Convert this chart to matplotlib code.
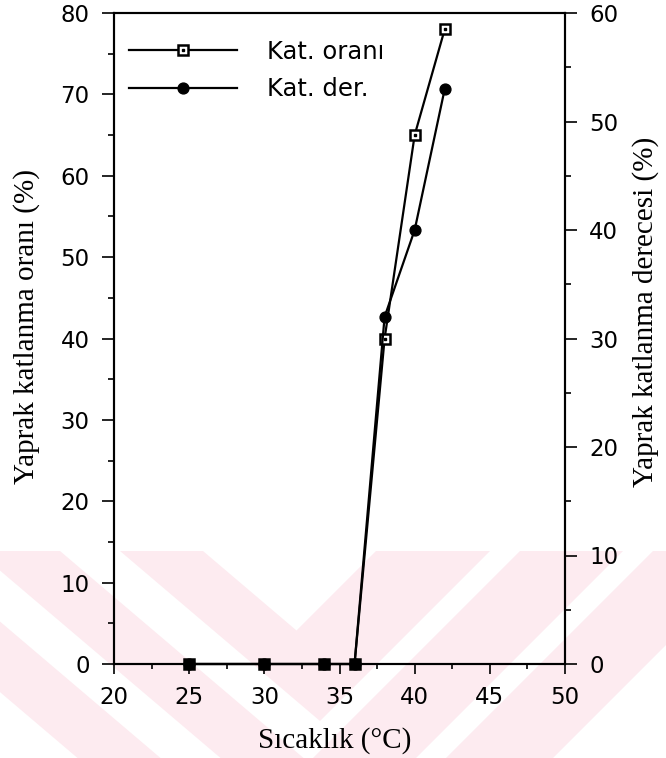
import matplotlib
matplotlib.use("Agg")
import matplotlib.pyplot as plt
from matplotlib.patches import Polygon, Rectangle
from matplotlib.lines import Line2D
from matplotlib.legend_handler import HandlerTuple
from matplotlib.ticker import MultipleLocator

# ---- data ----
temps = [25, 30, 34, 36, 38, 40, 42]
kat_orani = [0, 0, 0, 0, 40, 65, 78]      # left axis (%)
kat_der = [0, 0, 0, 0, 32, 40, 53]        # right axis (%)
series_labels = ["Kat. oranı", "Kat. der."]
xlabel = "Sıcaklık (°C)"
ylabel_left = "Yaprak katlanma oranı (%)"
ylabel_right = "Yaprak katlanma derecesi (%)"

W, H = 666, 758
fig = plt.figure(figsize=(W / 100, H / 100), dpi=100)
fig.patch.set_facecolor("white")


def P(x, y):
    return (x / W, 1 - y / H)


# ---- faint watermark in background ----
pink = "#fdebf0"
clip = Rectangle(P(0, 758), 1, (758 - 551) / H, transform=fig.transFigure,
                 facecolor="none", edgecolor="none")
fig.add_artist(clip)
s1, s2 = 0.85, 1.0
polys = [
    [(120, 551), (320, 721), (490, 551), (376, 551), (296.5, 630.5), (203, 551)],
]
for a, b in [(-23, 60), (-166, -83)]:
    d = 300
    polys.append([(a, 551), (b, 551), (b + d / s1, 551 + d), (a + d / s1, 551 + d)])
for a, b in [(520, 623), (653, 760)]:
    d = 300
    polys.append([(a, 551), (b, 551), (b - d / s2, 551 + d), (a - d / s2, 551 + d)])
for pts in polys:
    pg = Polygon([P(x, y) for x, y in pts], closed=True, transform=fig.transFigure,
                 facecolor=pink, edgecolor="none", zorder=-5)
    fig.add_artist(pg)
    pg.set_clip_path(clip)

# ---- axes ----
ax = fig.add_axes([114 / W, 1 - 664 / H, 451 / W, 651 / H])
ax.set_facecolor("none")
ax2 = ax.twinx()
ax2.set_facecolor("none")

ax.plot(temps, kat_orani, color="black", lw=1.6, marker="s", ms=7.8, mfc="white",
        mec="black", mew=1.8, clip_on=False, zorder=3)
ax.plot(temps, kat_orani, ls="none", marker="s", ms=1.6, color="black",
        clip_on=False, zorder=4)
ax2.plot(temps, kat_der, color="black", lw=1.6, marker="o", ms=7.8,
         clip_on=False, zorder=3)

ax.set_xlim(20, 50)
ax.set_ylim(0, 80)
ax2.set_ylim(0, 60)
ax.xaxis.set_major_locator(MultipleLocator(5))
ax.xaxis.set_minor_locator(MultipleLocator(2.5))
ax.yaxis.set_major_locator(MultipleLocator(10))
ax.yaxis.set_minor_locator(MultipleLocator(5))
ax2.yaxis.set_major_locator(MultipleLocator(10))
ax2.yaxis.set_minor_locator(MultipleLocator(5))

tickfont = "DejaVu Sans"
for a in (ax, ax2):
    for sp in a.spines.values():
        sp.set_linewidth(1.5)
ax.tick_params(axis="y", which="major", direction="out", length=8.5, width=1.2,
               labelsize=16.5, pad=9)
ax.tick_params(axis="y", which="minor", direction="out", length=4, width=1.2)
ax.tick_params(axis="x", which="major", direction="out", length=7.5, width=1.2,
               labelsize=16.5, pad=8)
ax.tick_params(axis="x", which="minor", direction="out", length=3.5, width=1.2)
ax2.tick_params(axis="y", which="major", direction="out", length=8.5, width=1.2,
                labelsize=16.5, pad=9)
ax2.tick_params(axis="y", which="minor", direction="out", length=4, width=1.2)
for lab in ax.get_xticklabels() + ax.get_yticklabels() + ax2.get_yticklabels():
    lab.set_family(tickfont)

# ---- axis labels ----
serif = "Liberation Serif"
fig.text(*P(27, 327), ylabel_left, rotation=90, ha="center", va="center",
         fontsize=21, family=serif)
fig.text(*P(646, 312), ylabel_right, rotation=90, ha="center", va="center",
         fontsize=21, family=serif)
fig.text(*P(335, 741), xlabel, ha="center", va="center", fontsize=21, family=serif)

# ---- legend ----
h1 = (Line2D([], [], color="black", lw=1.6, marker="s", ms=7.8, mfc="white",
             mec="black", mew=1.8),
      Line2D([], [], ls="none", marker="s", ms=1.6, color="black"))
h2 = Line2D([], [], color="black", lw=1.6, marker="o", ms=7.8)
leg = ax.legend([h1, h2], series_labels, loc="center left",
                bbox_to_anchor=P(129, 70.5), bbox_transform=fig.transFigure,
                frameon=False, numpoints=1, handlelength=4.44, handletextpad=1.23,
                labelspacing=0.55, borderpad=0, borderaxespad=0,
                prop={"family": tickfont, "size": 17.5},
                handler_map={tuple: HandlerTuple(ndivide=1)})

fig.savefig("out.png", dpi=100)
